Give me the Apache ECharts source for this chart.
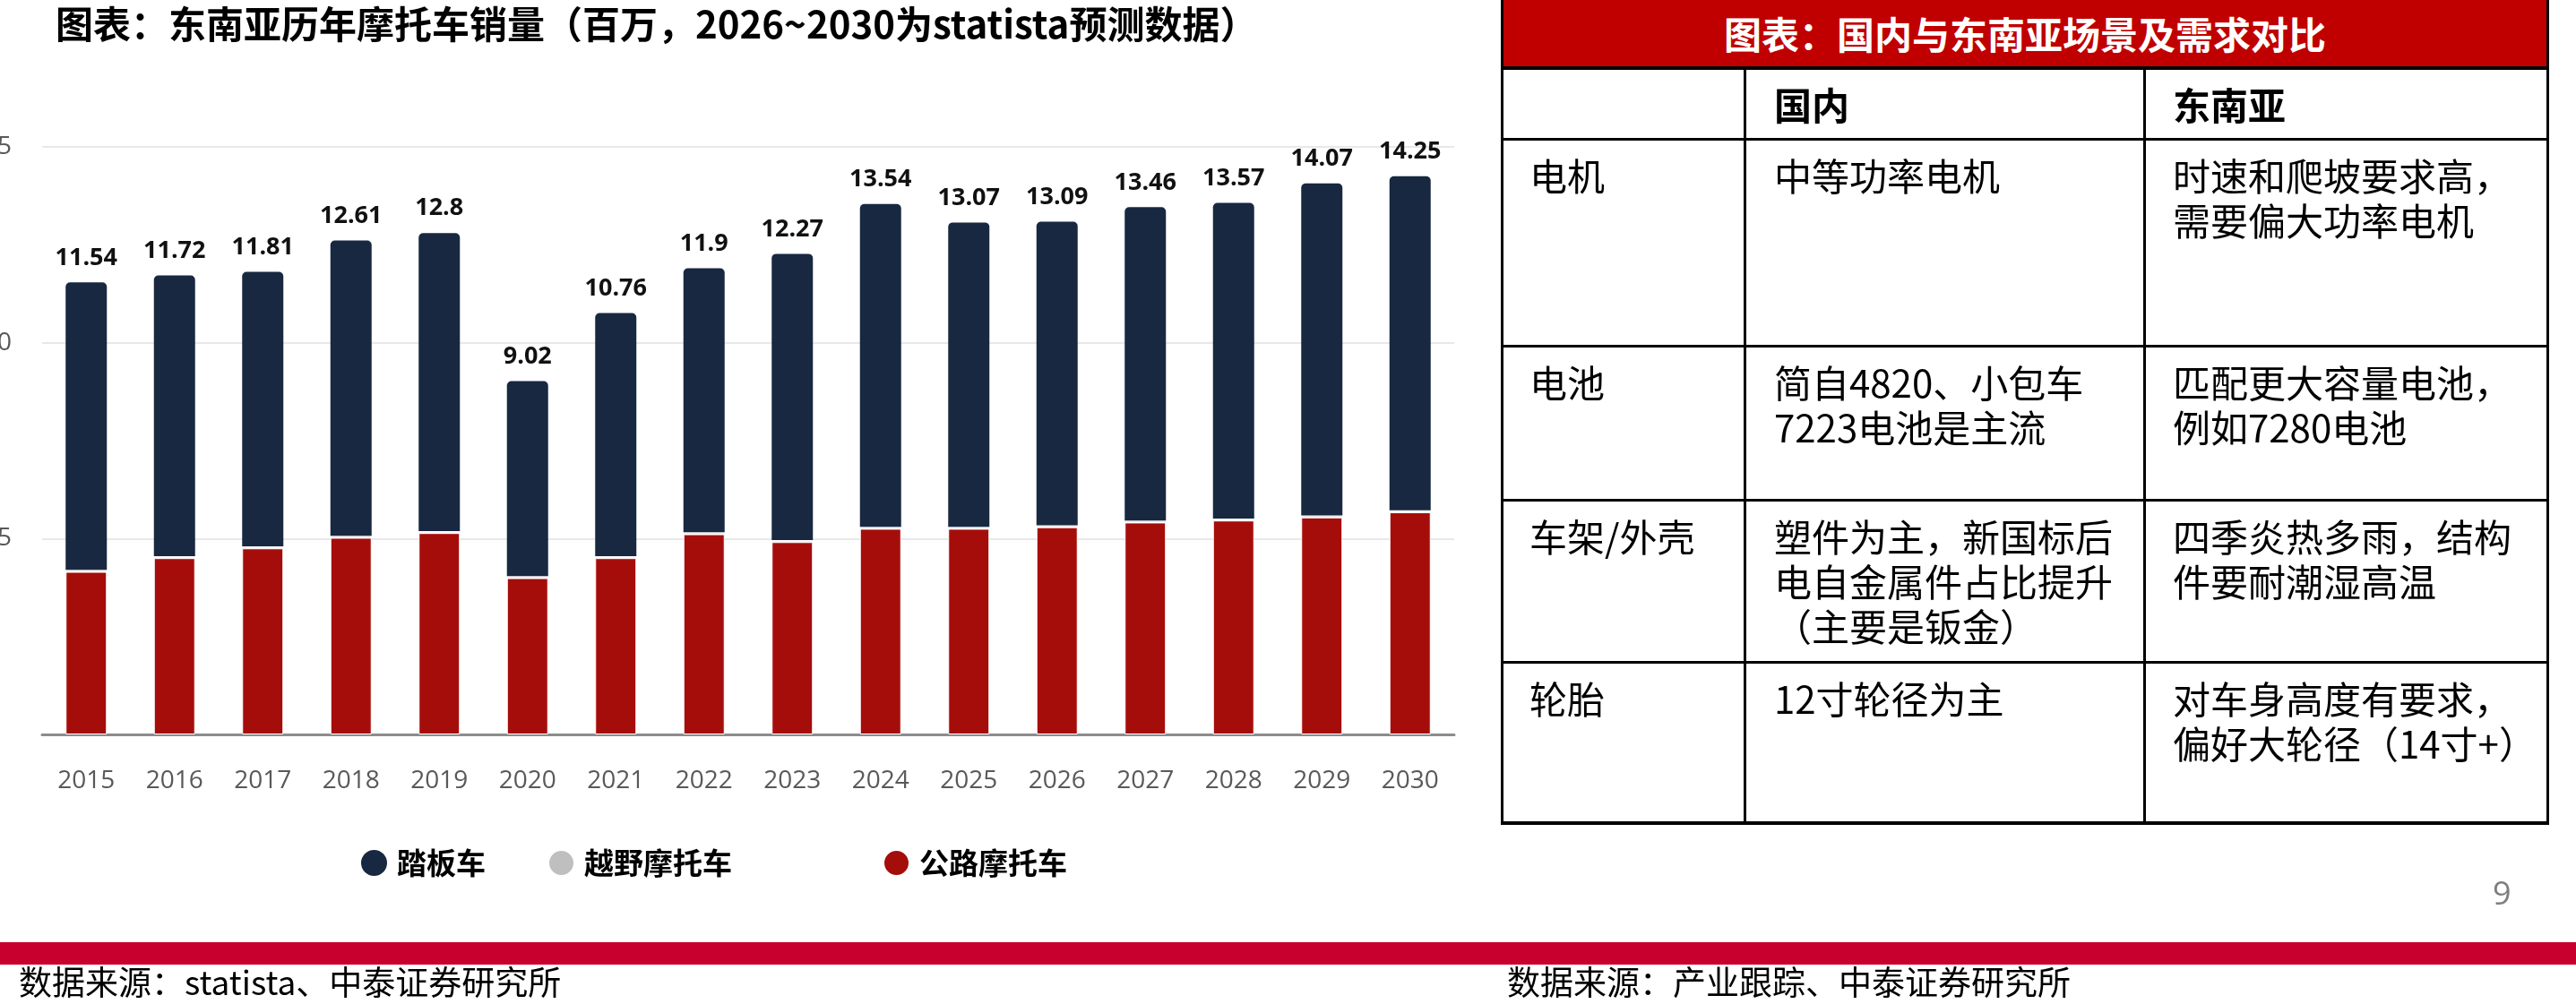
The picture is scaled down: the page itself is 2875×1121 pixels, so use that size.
<!DOCTYPE html>
<html>
<head>
<meta charset="utf-8">
<script src="https://cdn.jsdelivr.net/npm/echarts@6/dist/echarts.min.js"></script>
<style>
  html, body { margin:0; padding:0; background:#fff; }
  #wrap { position:relative; width:2875px; height:1121px; overflow:hidden; background:#fff; }
  #chart { position:absolute; left:0; top:0; width:2875px; height:1121px; }
  #tbl { position:absolute; left:0; top:0; width:2875px; height:1121px; pointer-events:none;
         font-family:"Noto Sans CJK SC","Noto Sans",sans-serif; color:#000; }
  .ln { position:absolute; background:#000; }
  .tx { position:absolute; font-size:42px; line-height:50px; white-space:nowrap; }
  .hd { font-weight:bold; }
</style>
</head>
<body>
<div id="wrap">
  <div id="chart"></div>
  <div id="tbl"></div>
</div>
<script>
// ---------------- data ----------------
const years   = ['2015','2016','2017','2018','2019','2020','2021','2022','2023','2024','2025','2026','2027','2028','2029','2030'];
const totals  = [11.54, 11.72, 11.81, 12.61, 12.8, 9.02, 10.76, 11.9, 12.27, 13.54, 13.07, 13.09, 13.46, 13.57, 14.07, 14.25];
const road    = [4.15, 4.50, 4.75, 5.02, 5.14, 3.99, 4.50, 5.11, 4.91, 5.25, 5.25, 5.29, 5.41, 5.46, 5.54, 5.67];
const offroad = [0.05, 0.05, 0.05, 0.05, 0.05, 0.05, 0.05, 0.05, 0.05, 0.05, 0.05, 0.05, 0.05, 0.05, 0.05, 0.05];
const scooter = [7.34, 7.17, 7.01, 7.54, 7.61, 4.98, 6.21, 6.74, 7.31, 8.24, 7.77, 7.75, 8.00, 8.06, 8.48, 8.53];
const seriesNames = ['踏板车', '越野摩托车', '公路摩托车'];
const yMin = 0, yMax = 15, yStep = 5;

const chartTitle = '图表：东南亚历年摩托车销量（百万，2026~2030为statista预测数据）';
const sourceLeft = '数据来源：statista、中泰证券研究所';
const sourceRight = '数据来源：产业跟踪、中泰证券研究所';
const pageNo = '9';

const tableTitle = '图表：国内与东南亚场景及需求对比';
const tableHead = ['', '国内', '东南亚'];
const tableRows = [
  ['电机', ['中等功率电机'], ['时速和爬坡要求高，', '需要偏大功率电机']],
  ['电池', ['简自4820、小包车', '7223电池是主流'], ['匹配更大容量电池，', '例如7280电池']],
  ['车架/外壳', ['塑件为主，新国标后', '电自金属件占比提升', '（主要是钣金）'], ['四季炎热多雨，结构', '件要耐潮湿高温']],
  ['轮胎', ['12寸轮径为主'], ['对车身高度有要求，', '偏好大轮径（14寸+）']]
];

// ---------------- colors ----------------
const NAVY = '#182841', RED = '#A50D0B', GREY = '#BFBFBF';
const CJK = '"Noto Sans CJK SC","Noto Sans",sans-serif';
const LAT = '"Open Sans","Noto Sans",sans-serif';

const chart = echarts.init(document.getElementById('chart'), null, {renderer:'canvas'});

function legendAt(name, left, color) {
  return {
    data: [{name: name, itemStyle: {color: color}}],
    left: left, top: 942,
    icon: 'circle', itemWidth: 29, itemHeight: 29,
    textStyle: {fontSize: 33, fontWeight: 'bold', color: '#000', fontFamily: CJK, padding: [0,0,0,6]},
    selectedMode: false
  };
}

chart.setOption({
  animation: false,
  backgroundColor: '#fff',
  title: {
    text: chartTitle, left: 57, top: 1,
    textStyle: {fontSize: 42, fontWeight: 'bold', color: '#000', fontFamily: CJK}
  },
  legend: [
    legendAt(seriesNames[0], 398, NAVY),
    legendAt(seriesNames[1], 606, GREY),
    legendAt(seriesNames[2], 980, RED)
  ],
  grid: {left: 47, right: 1252, top: 164, bottom: 301, containLabel: false, outerBoundsMode: 'none'},
  xAxis: {
    type: 'category', data: years,
    axisLine: {show: true, lineStyle: {color: '#8C8C8C', width: 3}},
    axisTick: {show: false},
    axisLabel: {fontSize: 28, color: '#595959', margin: 38, fontFamily: LAT}
  },
  yAxis: {
    type: 'value', min: yMin, max: yMax, interval: yStep,
    axisLine: {show: false}, axisTick: {show: false},
    splitLine: {lineStyle: {color: '#E8E8E8', width: 2}},
    axisLabel: {fontSize: 28, color: '#595959', margin: 34, fontFamily: LAT, showMinLabel: false}
  },
  series: [
    {
      name: seriesNames[2], type: 'bar', stack: 'all', data: road, barWidth: 46,
      itemStyle: {color: RED, borderColor: '#fff', borderWidth: 1}
    },
    {
      name: seriesNames[1], type: 'bar', stack: 'all', data: offroad, barWidth: 46,
      itemStyle: {color: GREY, borderColor: '#fff', borderWidth: 1}
    },
    {
      name: seriesNames[0], type: 'bar', stack: 'all', data: scooter, barWidth: 46,
      itemStyle: {color: NAVY, borderRadius: [5,5,0,0]},
      label: {
        show: true, position: 'top', distance: 14,
        formatter: p => String(totals[p.dataIndex]),
        fontSize: 27, fontWeight: 'bold', color: '#111', fontFamily: LAT
      }
    }
  ],
  graphic: [
    {type: 'rect', left: 0, top: 1052, shape: {width: 2875, height: 25}, style: {fill: '#C7002E'}},
    {type: 'text', left: 21, top: 1078, style: {text: sourceLeft, fontSize: 37, fill: '#000', fontFamily: CJK}},
    {type: 'text', left: 1682, top: 1078, style: {text: sourceRight, fontSize: 37, fill: '#000', fontFamily: CJK}},
    {type: 'text', left: 2782, top: 982, style: {text: pageNo, fontSize: 36, fill: '#7F7F7F', fontFamily: LAT}}
  ]
});

// ---------------- table (HTML) ----------------
const T = document.getElementById('tbl');
function add(cls, css, html) {
  const d = document.createElement('div');
  d.className = cls; d.style.cssText = css;
  if (html !== undefined) d.innerHTML = html;
  T.appendChild(d);
}
const L = 1675, R = 2845;
const colX = [L, 1946, 2392, R];
const rowY = [74, 154, 385, 557, 738, 917];
// header red
add('', `position:absolute;left:${L}px;top:0;width:${R-L}px;height:76px;background:#C00000;`);
add('tx hd', `left:${L}px;width:${R-L}px;top:0;height:74px;line-height:74px;text-align:center;color:#fff;font-size:42px;`, tableTitle);
// borders
add('ln', `left:${L}px;top:0;width:3px;height:${rowY[5]+4}px;`);
add('ln', `left:${R-3}px;top:0;width:3px;height:${rowY[5]+4}px;`);
rowY.forEach((y,i) => add('ln', `left:${L}px;top:${y}px;width:${R-L}px;height:${i===0||i===5?4:3}px;`));
[colX[1], colX[2]].forEach(x => add('ln', `left:${x}px;top:${rowY[0]}px;width:3px;height:${rowY[5]-rowY[0]+2}px;`));
// head row
add('tx hd', `left:${colX[1]+34}px;top:91px;`, tableHead[1]);
add('tx hd', `left:${colX[2]+33}px;top:91px;`, tableHead[2]);
// body rows
tableRows.forEach((r, i) => {
  const top = rowY[i+1] + 16;
  add('tx', `left:${L+32}px;top:${top}px;`, r[0]);
  add('tx', `left:${colX[1]+34}px;top:${top}px;`, r[1].join('<br>'));
  add('tx', `left:${colX[2]+33}px;top:${top}px;`, r[2].join('<br>'));
});
</script>
</body>
</html>
